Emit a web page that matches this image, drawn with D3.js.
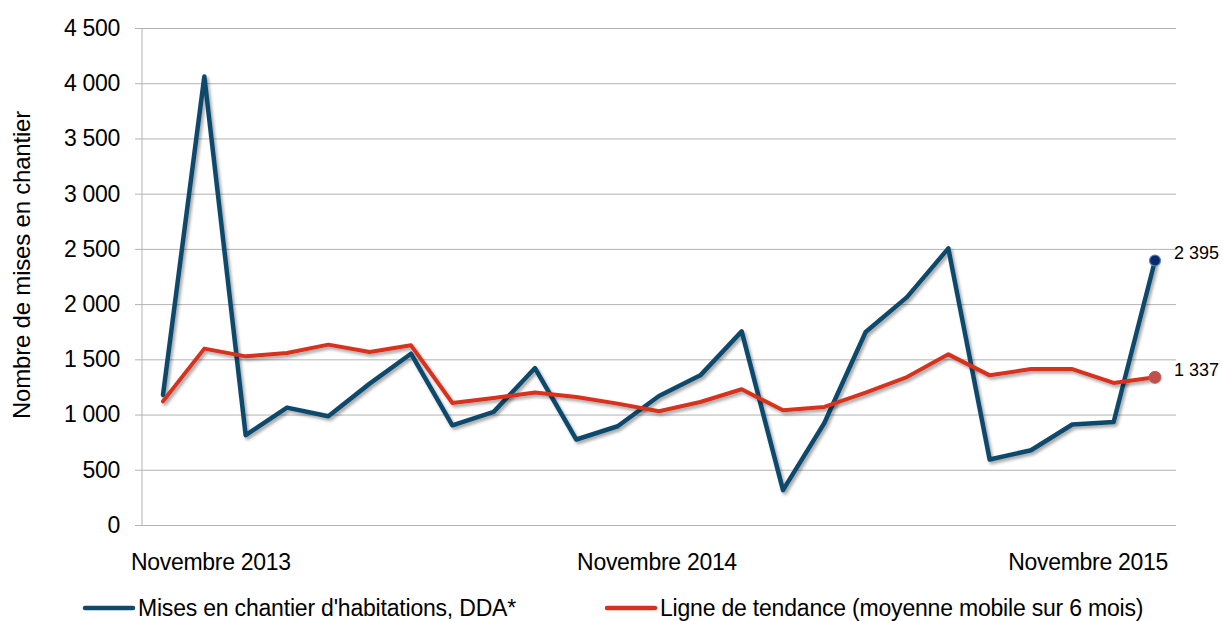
<!DOCTYPE html>
<html>
<head>
<meta charset="utf-8">
<script src="https://cdn.jsdelivr.net/npm/d3@7"></script>
<style>
  html, body { margin: 0; padding: 0; background: #fff; }
  svg { display: block; font-family: "Liberation Sans", Arial, sans-serif; }
</style>
</head>
<body>
<svg id="chart" width="1223" height="621"></svg>
<script>
const months = [
  "Novembre 2013","Décembre 2013","Janvier 2014","Février 2014","Mars 2014","Avril 2014",
  "Mai 2014","Juin 2014","Juillet 2014","Août 2014","Septembre 2014","Octobre 2014",
  "Novembre 2014","Décembre 2014","Janvier 2015","Février 2015","Mars 2015","Avril 2015",
  "Mai 2015","Juin 2015","Juillet 2015","Août 2015","Septembre 2015","Octobre 2015",
  "Novembre 2015"
];
const miseEnChantier = [
  1178, 4060, 813, 1063, 985, 1280, 1551, 903, 1024, 1421, 774, 894,
  1168, 1355, 1753, 316, 924, 1747, 2063, 2505, 593, 677, 910, 933, 2395
];
const tendance = [
  1120, 1597, 1527, 1557, 1633, 1566, 1627, 1105, 1150, 1199, 1159, 1099,
  1030, 1114, 1229, 1039, 1069, 1199, 1340, 1545, 1355, 1412, 1412, 1286, 1337
];
const yTicks = [0, 500, 1000, 1500, 2000, 2500, 3000, 3500, 4000, 4500];
const xTickLabels = ["Novembre 2013", "Novembre 2014", "Novembre 2015"];
const seriesNames = ["Mises en chantier d'habitations, DDA*", "Ligne de tendance (moyenne mobile sur 6 mois)"];

const svg = d3.select("#chart");
const fr = d3.formatLocale({decimal: ",", thousands: " ", grouping: [3], currency: ["", " €"]});
const fmt = fr.format(",d");

const x = d3.scalePoint().domain(months).range([163, 1155]);
const y = d3.scaleLinear().domain([0, 4500]).range([525, 28]);
const plotLeft = 142, plotRight = 1176;

const defs = svg.append("defs");
const f = defs.append("filter").attr("id", "shadow").attr("x", "-10%").attr("y", "-10%").attr("width", "120%").attr("height", "120%");
f.append("feDropShadow").attr("dx", 2).attr("dy", 2.5).attr("stdDeviation", 1.6)
  .attr("flood-color", "#000").attr("flood-opacity", 0.35);

// gridlines
const yAxis = d3.axisLeft(y).tickValues(yTicks).tickFormat(fmt)
  .tickSize(-(plotRight - plotLeft)).tickSizeOuter(0).tickPadding(22);
const gy = svg.append("g").attr("transform", `translate(${plotLeft},0)`).call(yAxis);
gy.select(".domain").remove();
gy.selectAll(".tick line").attr("stroke", "#b3b3b3").attr("stroke-width", 1).attr("x1", -7);
gy.selectAll(".tick text").attr("font-size", 23).attr("fill", "#000")
  .attr("font-family", "'Liberation Sans', Arial, sans-serif").attr("letter-spacing", -0.3);

// left axis line
svg.append("line").attr("x1", plotLeft).attr("x2", plotLeft)
  .attr("y1", y(4500)).attr("y2", y(0)).attr("stroke", "#b3b3b3").attr("stroke-width", 1);

// x tick labels
const xLabelInfo = [
  {label: xTickLabels[0], idx: 0, anchor: "start", dx: -32},
  {label: xTickLabels[1], idx: 12, anchor: "middle", dx: -2},
  {label: xTickLabels[2], idx: 24, anchor: "end", dx: 13}
];
svg.append("g").selectAll("text").data(xLabelInfo).join("text")
  .attr("x", d => x(months[d.idx]) + d.dx)
  .attr("y", 570)
  .attr("text-anchor", d => d.anchor)
  .attr("font-size", 23)
  .attr("letter-spacing", -0.3)
  .attr("fill", "#000")
  .text(d => d.label);

// y axis title
svg.append("text")
  .attr("transform", "translate(30,265) rotate(-90)")
  .attr("text-anchor", "middle")
  .attr("font-size", 24)
  .attr("letter-spacing", -0.2)
  .attr("fill", "#000")
  .text("Nombre de mises en chantier");

const line = d3.line().x((d, i) => x(months[i])).y(d => y(d));

svg.append("path").datum(miseEnChantier)
  .attr("d", line).attr("fill", "none")
  .attr("stroke", "#0f4a6d").attr("stroke-width", 4.5)
  .attr("stroke-linejoin", "round").attr("stroke-linecap", "round")
  .attr("filter", "url(#shadow)");

svg.append("path").datum(tendance)
  .attr("d", line).attr("fill", "none")
  .attr("stroke", "#d8301f").attr("stroke-width", 4)
  .attr("stroke-linejoin", "round").attr("stroke-linecap", "round")
  .attr("filter", "url(#shadow)");

// end markers
const last = months.length - 1;
svg.append("circle").attr("cx", x(months[last])).attr("cy", y(miseEnChantier[last]))
  .attr("r", 5.5).attr("fill", "#0a2a6b").attr("stroke", "#5b86c5").attr("stroke-width", 1.2);
svg.append("circle").attr("cx", x(months[last])).attr("cy", y(tendance[last]))
  .attr("r", 6).attr("fill", "#c0504d").attr("stroke", "#c95a57").attr("stroke-width", 1);

svg.append("text").attr("x", x(months[last]) + 19).attr("y", y(miseEnChantier[last]) - 1)
  .attr("font-size", 18).attr("fill", "#000").text(fmt(miseEnChantier[last]));
svg.append("text").attr("x", x(months[last]) + 19).attr("y", y(tendance[last]) - 1)
  .attr("font-size", 18).attr("fill", "#000").text(fmt(tendance[last]));

// legend
const legend = [
  {name: seriesNames[0], color: "#0f4a6d", x0: 85},
  {name: seriesNames[1], color: "#d8301f", x0: 607}
];
const lg = svg.append("g").selectAll("g").data(legend).join("g");
lg.append("line").attr("x1", d => d.x0).attr("x2", d => d.x0 + 48)
  .attr("y1", 608).attr("y2", 608).attr("stroke", d => d.color).attr("stroke-width", 4.5)
  .attr("stroke-linecap", "round");
lg.append("text").attr("x", d => d.x0 + 53).attr("y", 616)
  .attr("font-size", 23).attr("letter-spacing", -0.2).attr("fill", "#000").text(d => d.name);
</script>
</body>
</html>
